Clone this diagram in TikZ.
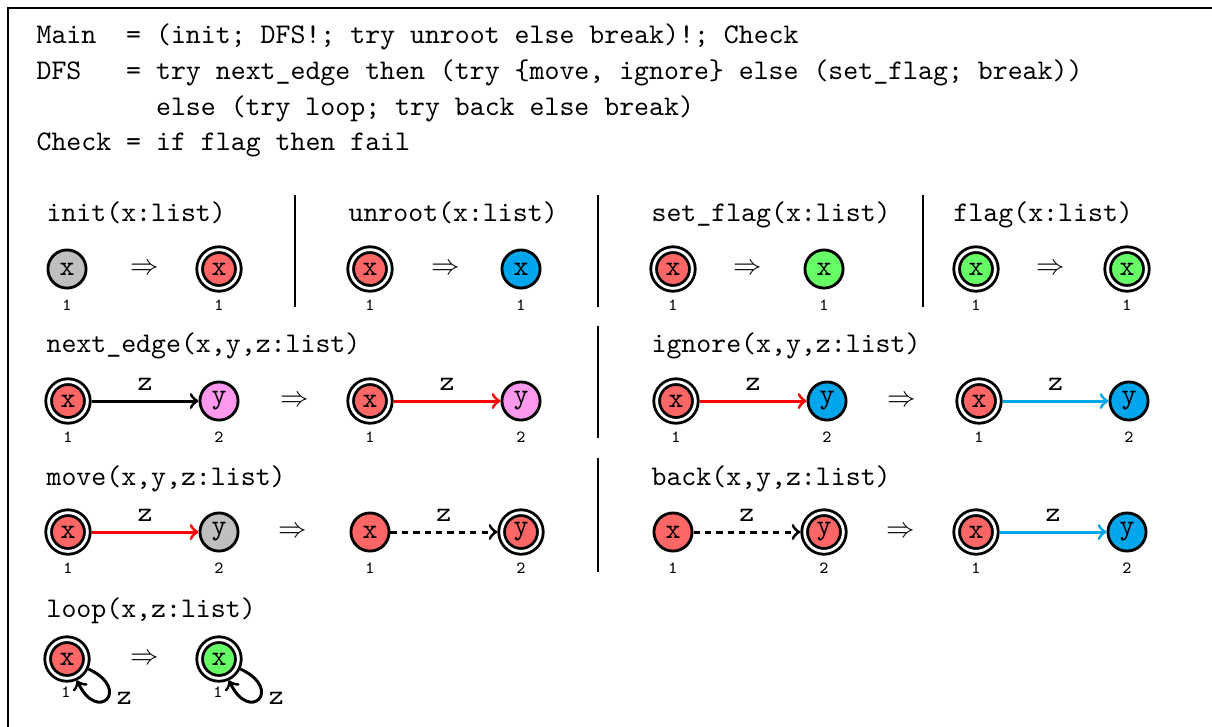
\documentclass[tikz,border=0pt]{standalone}
\usetikzlibrary{calc}
\definecolor{nred}{RGB}{255,102,102}
\definecolor{ngreen}{RGB}{102,255,102}
\definecolor{nblue}{RGB}{0,166,235}
\definecolor{npink}{RGB}{255,153,238}
\definecolor{ngray}{RGB}{191,191,191}
\tikzset{
  vtx/.style={circle, draw, line width=1pt, minimum size=13.4pt, inner sep=0pt, font=\ttfamily},
  dvtx/.style={vtx, minimum size=13.6pt, double, double distance=1pt, outer sep=1.5pt},
  num/.style={font=\ttfamily\fontsize{6}{7}\selectfont, inner sep=0pt},
  code/.style={font=\ttfamily, anchor=base west, inner sep=0pt},
  imp/.style={inner sep=0pt},
  sep/.style={line width=0.5pt},
  arr/.style={->, line width=1.05pt},
  dash arr/.style={->, line width=1.05pt, dash pattern=on 2.2pt off 1.8pt},
  elab/.style={font=\ttfamily, above, inner sep=3pt},
}
\begin{document}
\begin{tikzpicture}[x=0.35137pt, y=-0.35137pt]
\useasboundingbox (0,0) rectangle (1212,726);
\clip (0,0) rectangle (1212,726);
\draw[line width=1pt] (8,8) rectangle (1240,760);

% program text
\node[code] (l1) at (36,43.5) {Main~~=~(init;~DFS!;~try~unroot~else~break)!;~Check};
\node[code] (l2) at (36,79.3) {DFS~~~=~try~next\_edge~then~(try~\{move,~ignore\}~else~(set\_flag;~break))};
\node[code] (l3) at (155.5,115.1) {else~(try~loop;~try~back~else~break)};
\node[code] (l4) at (36,150.9) {Check~=~if~flag~then~fail};

% titles
\node[code] (t1) at (46,221) {init(x:list)};
\node[code] (t2) at (348,221) {unroot(x:list)};
\node[code] (t3) at (651,221) {set\_flag(x:list)};
\node[code] (t4) at (953,221) {flag(x:list)};
\node[code] (t5) at (46,352) {next\_edge(x,y,z:list)};
\node[code] (t6) at (651,352) {ignore(x,y,z:list)};
\node[code] (t7) at (46,485) {move(x,y,z:list)};
\node[code] (t8) at (651,485) {back(x,y,z:list)};
\node[code] (t9) at (46,617) {loop(x,z:list)};

% separators
\draw[sep] (295,195) -- (295,307);
\draw[sep] (598,195) -- (598,307);
\draw[sep] (923,195) -- (923,307);
\draw[sep] (598,326) -- (598,438);
\draw[sep] (598,458) -- (598,572);

% row 1
\node[vtx, fill=ngray] (a1) at (67,269) {x};
\node[dvtx, fill=nred] (a2) at (219,269) {x};
\node[dvtx, fill=nred] (b1) at (370,269) {x};
\node[vtx, fill=nblue] (b2) at (521,269) {x};
\node[dvtx, fill=nred] (c1) at (673,269) {x};
\node[vtx, fill=ngreen] (c2) at (824,269) {x};
\node[dvtx, fill=ngreen] (d1) at (976,269) {x};
\node[dvtx, fill=ngreen] (d2) at (1127,269) {x};
\foreach \n in {a1,a2,b1,b2,c1,c2,d1,d2} \node[num] (\n n) at ($(\n)+(0,36)$) {1};
\node[imp] (r1) at (145,269) {$\Rightarrow$};
\node[imp] (r2) at (446,269) {$\Rightarrow$};
\node[imp] (r3) at (748,269) {$\Rightarrow$};
\node[imp] (r4) at (1051,269) {$\Rightarrow$};

% row 2
\node[dvtx, fill=nred] (e1) at (68,401) {x};
\node[vtx, fill=npink] (e2) at (219,401) {y};
\node[dvtx, fill=nred] (f1) at (370,401) {x};
\node[vtx, fill=npink] (f2) at (521,401) {y};
\node[dvtx, fill=nred] (g1) at (676,401) {x};
\node[vtx, fill=nblue] (g2) at (827,401) {y};
\node[dvtx, fill=nred] (h1) at (979,401) {x};
\node[vtx, fill=nblue] (h2) at (1129,401) {y};
\draw[arr] (e1) -- node[elab] {z} (e2);
\draw[arr, red] (f1) -- node[elab, text=black] {z} (f2);
\draw[arr, red] (g1) -- node[elab, text=black] {z} (g2);
\draw[arr, nblue] (h1) -- node[elab, text=black] {z} (h2);
\node[imp] (r5) at (295,401) {$\Rightarrow$};
\node[imp] (r6) at (902,401) {$\Rightarrow$};

% row 3
\node[dvtx, fill=nred] (i1) at (68,532) {x};
\node[vtx, fill=ngray] (i2) at (219,532) {y};
\node[vtx, fill=nred] (j1) at (370,532) {x};
\node[dvtx, fill=nred] (j2) at (521,532) {y};
\node[vtx, fill=nred] (k1) at (673,532) {x};
\node[dvtx, fill=nred] (k2) at (824,532) {y};
\node[dvtx, fill=nred] (l1n) at (976,532) {x};
\node[vtx, fill=nblue] (l2n) at (1127,532) {y};
\draw[arr, red] (i1) -- node[elab, text=black] {z} (i2);
\draw[dash arr] (j1) -- node[elab] {z} (j2);
\draw[dash arr] (k1) -- node[elab] {z} (k2);
\draw[arr, nblue] (l1n) -- node[elab, text=black] {z} (l2n);
\node[imp] (r7) at (293,532) {$\Rightarrow$};
\node[imp] (r8) at (901,532) {$\Rightarrow$};

% numbers rows 2,3
\foreach \n in {e1,f1,g1,h1,i1,j1,k1,l1n} \node[num] (\n n) at ($(\n)+(0,36)$) {1};
\foreach \n in {e2,f2,g2,h2,i2,j2,k2,l2n} \node[num] (\n n) at ($(\n)+(0,36)$) {2};

% row 4
\node[dvtx, fill=nred] (m1) at (67,659) {x};
\node[dvtx, fill=ngreen] (m2) at (219,659) {x};
\draw[arr] (m1) to[loop, out=-25, in=-65, min distance=17pt] node[font=\ttfamily, right, inner sep=3pt] {z} (m1);
\draw[arr] (m2) to[loop, out=-25, in=-65, min distance=17pt] node[font=\ttfamily, right, inner sep=3pt] {z} (m2);
\node[num] (m1n) at (66,692) {1};
\node[num] (m2n) at (218,692) {1};
\node[imp] (r9) at (145,659) {$\Rightarrow$};
\end{tikzpicture}
\end{document}
